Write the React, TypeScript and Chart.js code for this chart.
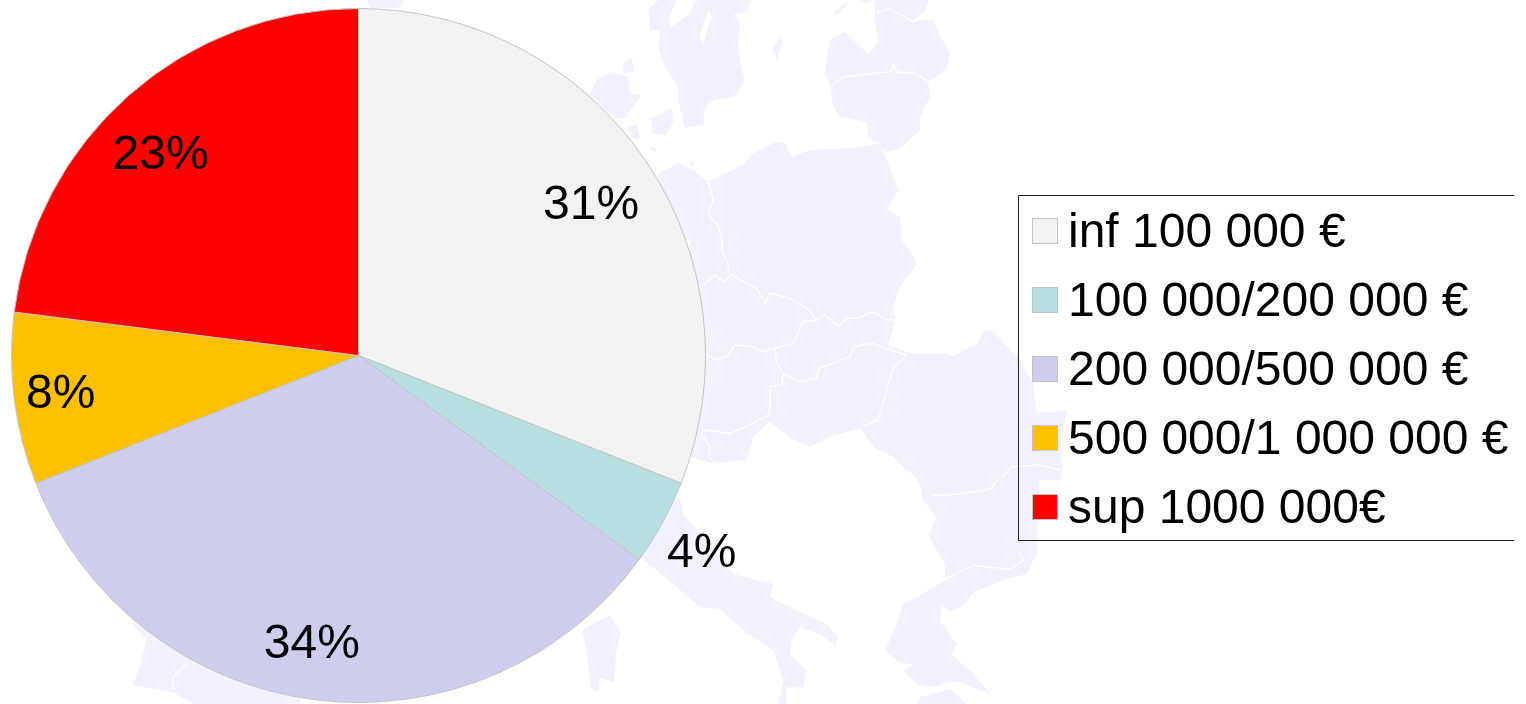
import React, { useEffect, useRef } from "react";
import { Chart, registerables } from "chart.js";

Chart.register(...registerables);

const categories = [
  "inf 100 000 €",
  "100 000/200 000 €",
  "200 000/500 000 €",
  "500 000/1 000 000 €",
  "sup 1000 000€",
];
const shares = [31, 4, 34, 8, 23];
const sliceColors = ["#f2f2f2", "#b7dee0", "#cdcded", "#ffc000", "#ff0000"];
const labelRadialFactor = [0.8, 1.14, 0.84, 0.865, 0.815];
const labelAngleShiftDeg = [1.1, 1.0, 2.0, 0, -3];

const FONT = '"Liberation Sans", Arial, sans-serif';
const MAP = "#f2f1ff";

// Faint backdrop map of Europe: decoration only, not data.
// Each group is traced in its own 3x crop coordinates.
const northShapes = [
  "M175,30 L205,0 L260,0 L235,60 L240,85 L300,40 L315,0 L485,0 L470,35 L430,45 L450,65 L445,130 L450,190 L465,240 L435,290 L370,300 L345,325 L340,375 L285,385 L265,300 L265,260 L225,200 L205,140 L210,90 L180,90 Z",
  "M100,190 L125,170 L132,215 L100,220 Z",
  "M20,240 L60,215 L115,230 L120,280 L155,285 L120,330 L110,355 L75,355 L0,285 Z",
  "M185,355 L225,335 L245,325 L250,365 L230,405 L185,400 Z",
  "M110,380 L140,375 L150,415 L130,415 Z",
  "M180,440 L200,445 L195,460 Z",
  "M295,480 L315,490 L305,500 Z",
  "M570,105 L578,120 L560,180 L548,150 Z",
  "M730,40 L770,5 L770,15 L740,45 Z",
  "M810,0 L840,0 L830,10 Z",
  "M855,0 L1015,0 L1005,35 L970,60 L1030,60 L1045,100 L1080,160 L1070,210 L1015,245 L1020,290 L990,350 L990,390 L930,445 L885,455 L870,430 L835,415 L830,365 L750,350 L730,320 L720,260 L705,215 L720,120 L765,95 L810,140 L835,160 L865,125 L855,60 Z",
  "M205,520 L265,490 L300,505 L355,545 L460,495 L490,460 L560,425 L585,430 L605,470 L660,450 L780,445 L870,430 L925,570 L890,630 L930,650 L935,720 L205,720 Z",
];
const northLakes = ["M355,30 L365,50 L340,130 L328,110 Z"];
const northBorders = [
  "M720,260 L760,230 L900,215 L910,195 L925,215 L975,220 L1015,245",
  "M860,40 L895,25 L970,65 L1000,55",
  "M355,545 L370,600 L355,640 L385,680 L395,720",
];
const centralShapes = [
  "M0,0 L630,0 L670,45 L680,75 L630,140 L610,195 L615,240 L595,315 L660,340 L770,340 L790,350 L860,310 L885,270 L910,275 L985,355 L1030,430 L1040,520 L1130,510 L1115,600 L1115,720 L690,720 L650,690 L610,650 L555,625 L510,565 L420,590 L360,620 L310,600 L240,545 L190,590 L170,660 L70,670 L0,650 Z",
];
const centralBorders = [
  "M95,0 L95,30 L115,70 L115,100",
  "M30,145 L75,105 L100,125 L125,105 L200,145 L225,190 L240,160 L300,175 L350,205 L380,240 L405,225 L445,260 L470,235 L510,235 L530,220 L560,220 L590,240 L612,240",
  "M50,345 L80,360 L110,350 L135,315 L185,320 L215,335 L255,325 L310,310 L340,245 L380,240",
  "M255,325 L260,370 L280,400 L330,425 L380,415 L385,385 L430,370 L480,350 L490,320 L550,310 L570,320 L650,345",
  "M280,400 L275,435 L240,440 L240,500 L235,525 L180,555 L120,580 L40,570",
  "M650,345 L610,385 L590,450 L565,540 L520,560",
  "M40,590 L60,620 L55,650 L75,670",
  "M935,715 L965,680 L1050,675 L1110,690",
];
const southShapes = [
  "M800,0 L1200,0 L1190,270 L1160,330 L1100,345 L1000,385 L975,420 L930,445 L905,420 L900,470 L950,540 L935,570 L1000,630 L1050,690 L950,650 L870,670 L830,660 L790,620 L820,600 L785,600 L735,560 L770,480 L790,420 L915,350 L915,300 L865,215 L890,160 L850,110 L840,60 Z",
  "M840,700 L930,675 L980,720 L835,720 Z",
  "M120,100 L130,150 L280,330 L400,360 L390,400 L450,430 L560,480 L595,520 L585,545 L540,510 L480,490 L455,530 L450,570 L500,620 L490,670 L440,670 L440,720 L415,720 L430,650 L400,560 L340,520 L300,490 L240,435 L180,430 L100,360 L0,280 L0,180 Z",
];
const southBorders = [
  "M875,95 L960,90 L1050,75 L1090,30 L1140,10",
  "M915,345 L1000,305 L1110,315 L1150,290 L1135,260",
];
const pageShapes = [
  "M132,623 L146,640 L141,663 L133,685 L160,690 L174,693 L194,704 L300,704 L300,620 Z",
  "M582,630 L610,615 L621,633 L616,653 L614,682 L600,678 L598,692 L591,688 L587,653 Z",
  "M367,0 L403,0 L400,8 L370,8 Z",
];
const pageBorders = ["M173,690 L173,677 L187,663"];

function MapGroup(props: {
  x: number;
  y: number;
  k: number;
  shapes: string[];
  borders: string[];
  lakes?: string[];
}) {
  return (
    <g transform={`translate(${props.x},${props.y}) scale(${props.k})`}>
      {props.shapes.map((d, i) => (
        <path key={i} d={d} fill={MAP} />
      ))}
      {(props.lakes || []).map((d, i) => (
        <path key={i} d={d} fill="#fff" />
      ))}
      {props.borders.map((d, i) => (
        <path
          key={i}
          d={d}
          fill="none"
          stroke="#fff"
          strokeWidth={props.k < 1 ? 4.5 : 1.5}
        />
      ))}
    </g>
  );
}

export default function App() {
  const canvasRef = useRef<HTMLCanvasElement>(null);

  useEffect(() => {
    const percentLabels = {
      id: "percentLabels",
      afterDatasetsDraw(chart: any) {
        const ctx = chart.ctx;
        const arcs = chart.getDatasetMeta(0).data;
        ctx.save();
        ctx.font = `48px ${FONT}`;
        ctx.fillStyle = "#000";
        ctx.textAlign = "center";
        ctx.textBaseline = "middle";
        arcs.forEach((arc: any, i: number) => {
          const a =
            (arc.startAngle + arc.endAngle) / 2 +
            (labelAngleShiftDeg[i] * Math.PI) / 180;
          const r = arc.outerRadius * labelRadialFactor[i];
          ctx.fillText(
            `${shares[i]}%`,
            arc.x + Math.cos(a) * r,
            arc.y + Math.sin(a) * r + 2
          );
        });
        ctx.restore();
      },
    };

    const chart = new Chart(canvasRef.current!, {
      type: "pie",
      data: {
        labels: categories,
        datasets: [
          {
            data: shares,
            backgroundColor: sliceColors,
            borderColor: "#c4c4c4",
            borderWidth: 1,
          },
        ],
      },
      options: {
        animation: false,
        responsive: false,
        layout: { padding: { left: 11, top: 8, right: 820, bottom: 1 } },
        plugins: {
          legend: { display: false },
          tooltip: { enabled: false },
        },
      },
      plugins: [percentLabels],
    } as any);
    return () => chart.destroy();
  }, []);

  return (
    <div
      style={{
        position: "fixed",
        left: 0,
        top: 0,
        width: 1526,
        height: 704,
        overflow: "hidden",
        background: "#fff",
      }}
    >
      <svg
        width={1526}
        height={704}
        style={{ position: "absolute", left: 0, top: 0, filter: "blur(0.7px)" }}
      >
        <MapGroup x={590} y={0} k={1 / 3} shapes={northShapes} lakes={northLakes} borders={northBorders} />
        <MapGroup x={640} y={464} k={1 / 3} shapes={southShapes} borders={southBorders} />
        <MapGroup x={690} y={240} k={1 / 3} shapes={centralShapes} borders={centralBorders} />
        <MapGroup x={0} y={0} k={1} shapes={pageShapes} borders={pageBorders} />
      </svg>
      <canvas
        ref={canvasRef}
        width={1526}
        height={704}
        style={{ position: "absolute", left: 0, top: 0, display: "block" }}
      />
      <div
        style={{
          position: "absolute",
          left: 1018,
          top: 195,
          width: 495,
          height: 344,
          borderTop: "1px solid #222",
          borderLeft: "1px solid #222",
          borderBottom: "1px solid #222",
          fontFamily: FONT,
          fontSize: 48,
          color: "#000",
          whiteSpace: "nowrap",
        }}
      >
        {categories.map((label, i) => (
          <div
            key={label}
            style={{ height: 69, display: "flex", alignItems: "center" }}
          >
            <span
              style={{
                display: "inline-block",
                boxSizing: "border-box",
                width: 26,
                height: 26,
                marginLeft: 13,
                marginRight: 10,
                background: sliceColors[i],
                border: "1px solid #c4c4c4",
              }}
            />
            <span>{label}</span>
          </div>
        ))}
      </div>
    </div>
  );
}
